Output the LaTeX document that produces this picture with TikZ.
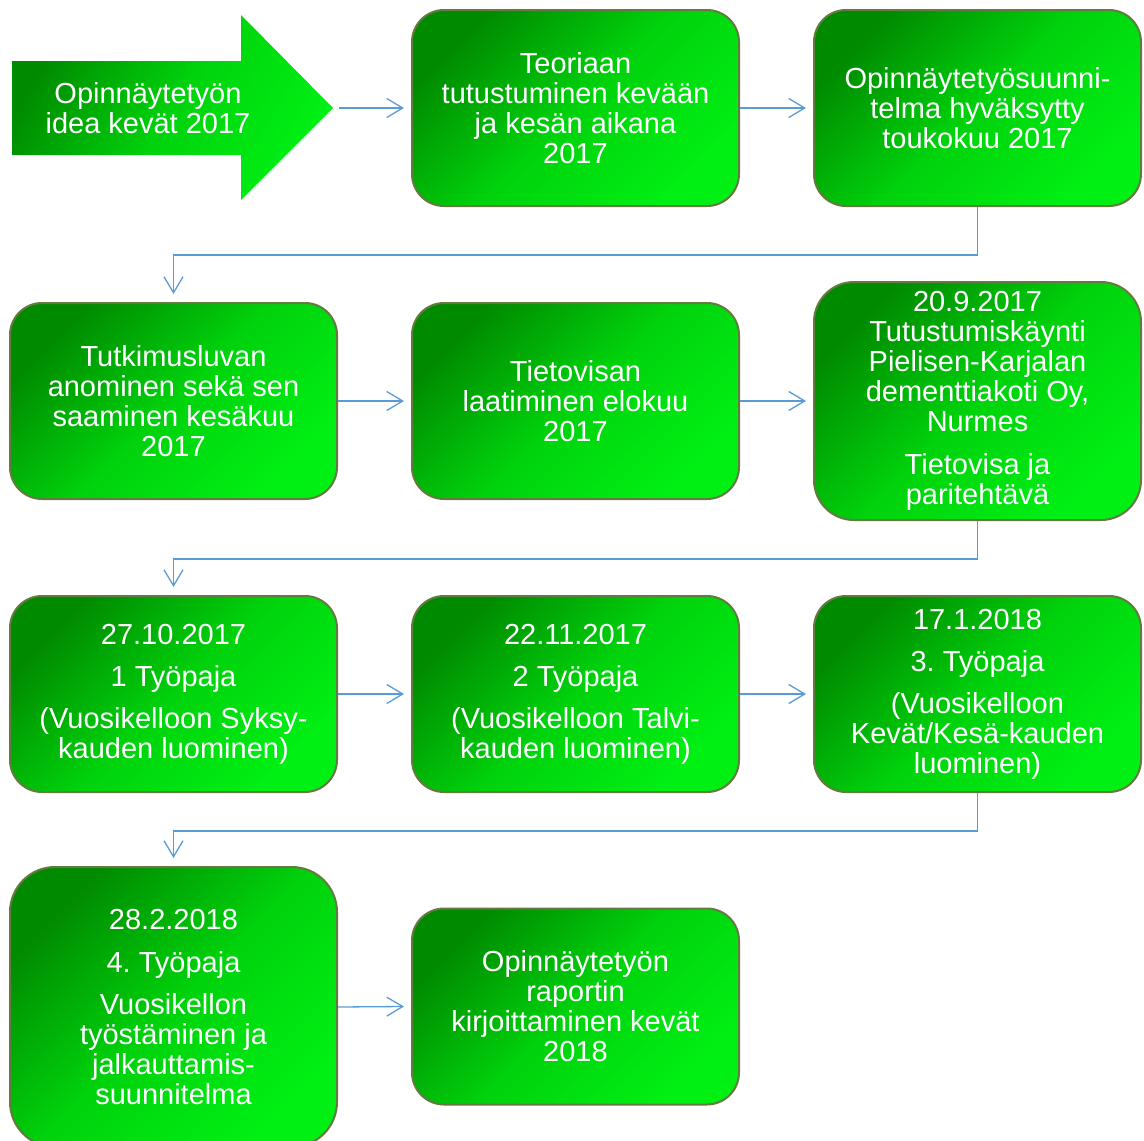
\documentclass[tikz,border=0pt]{standalone}
\usepackage{fontspec}
\setmainfont{Liberation Sans}
\usetikzlibrary{arrows.meta,calc}
\definecolor{gdark}{HTML}{008A00}
\definecolor{gmid}{HTML}{00D20C}
\definecolor{glight}{HTML}{00F014}
\definecolor{bordcol}{HTML}{657A40}
\definecolor{conncol}{HTML}{5B9BD5}
\tikzset{
  stepbox/.style={draw=bordcol, line width=2pt, rounded corners=32pt,
    minimum width=327pt, minimum height=196pt, inner sep=0pt,
    top color=gdark, bottom color=glight, middle color=gmid, shading angle=45,
    text=white, align=center, font=\fontsize{29}{30}\selectfont\frenchspacing},
  tallbox/.style={stepbox, rounded corners=40pt, minimum height=238pt},
  bigbox/.style={stepbox, rounded corners=45pt, minimum height=280pt},
  arrowtext/.style={text=white, align=center, inner sep=0pt, font=\fontsize{29}{30}\selectfont\frenchspacing},
  conn/.style={draw=conncol, line width=1.3pt, -{Straight Barb[length=16pt,width=19pt]}},
}
\begin{document}
\begin{tikzpicture}[x=1pt,y=-1pt]
\useasboundingbox (0,0) rectangle (1144,1141);
\begin{scope}
\clip (0,0) rectangle (1144,1141);
% start arrow
\path[top color=gdark, bottom color=glight, middle color=gmid, shading angle=60]
  (12,61) -- (241,61) -- (241,15) -- (333,108) -- (241,200) -- (241,155) -- (12,155) -- cycle;
\node[arrowtext] (a0) at (148,108) {Opinnäytetyön\\idea kevät 2017};
\coordinate (a0tip) at (333,108);

\node[stepbox] (b1) at (575.5,108) {Teoriaan\\tutustuminen kevään\\ja kesän aikana\\2017};
\node[stepbox] (b2) at (977.5,108) {Opinnäytetyösuunni-\\telma hyväksytty\\toukokuu 2017};
\node[stepbox] (b3) at (173.5,401) {Tutkimusluvan\\anominen sekä sen\\saaminen kesäkuu\\2017};
\node[stepbox] (b4) at (575.5,401) {Tietovisan\\laatiminen elokuu\\2017};
\node[tallbox] (b5) at (977.5,401) {20.9.2017\\Tutustumiskäynti\\Pielisen-Karjalan\\dementtiakoti Oy,\\Nurmes\\[13pt]Tietovisa ja\\paritehtävä};
\node[stepbox] (b6) at (173.5,694) {27.10.2017\\[12pt]1 Työpaja\\[12pt](Vuosikelloon Syksy-\\kauden luominen)};
\node[stepbox] (b7) at (575.5,694) {22.11.2017\\[12pt]2 Työpaja\\[12pt](Vuosikelloon Talvi-\\kauden luominen)};
\node[stepbox] (b8) at (977.5,694) {17.1.2018\\[12pt]3. Työpaja\\[12pt](Vuosikelloon\\Kevät/Kesä-kauden\\luominen)};
\node[bigbox] (b9) at (173.5,1007) {28.2.2018\\[13pt]4. Työpaja\\[12pt]Vuosikellon\\työstäminen ja\\jalkauttamis-\\suunnitelma};
\node[stepbox] (b10) at (575.5,1006.5) {Opinnäytetyön\\raportin\\kirjoittaminen kevät\\2018};

% connectors
\draw[conn] ($(a0tip)+(6,0)$) -- ($(b1.west)+(-7,0)$);
\draw[conn] (b1.east) -- ($(b2.west)+(-7,0)$);
\draw[conn] (b2.south) -- ++(0,48) -| ($(b3.north)+(0,-8)$);
\draw[conn] (b3.east) -- ($(b4.west)+(-7,0)$);
\draw[conn] (b4.east) -- ($(b5.west)+(-7,0)$);
\draw[conn] (b5.south) -- ++(0,38) -| ($(b6.north)+(0,-8)$);
\draw[conn] (b6.east) -- ($(b7.west)+(-7,0)$);
\draw[conn] (b7.east) -- ($(b8.west)+(-7,0)$);
\draw[conn] (b8.south) -- ++(0,38) -| ($(b9.north)+(0,-8)$);
\draw[conn] (b9.east) -- ($(b10.west)+(-7,0)$);
\end{scope}
\end{tikzpicture}
\end{document}
